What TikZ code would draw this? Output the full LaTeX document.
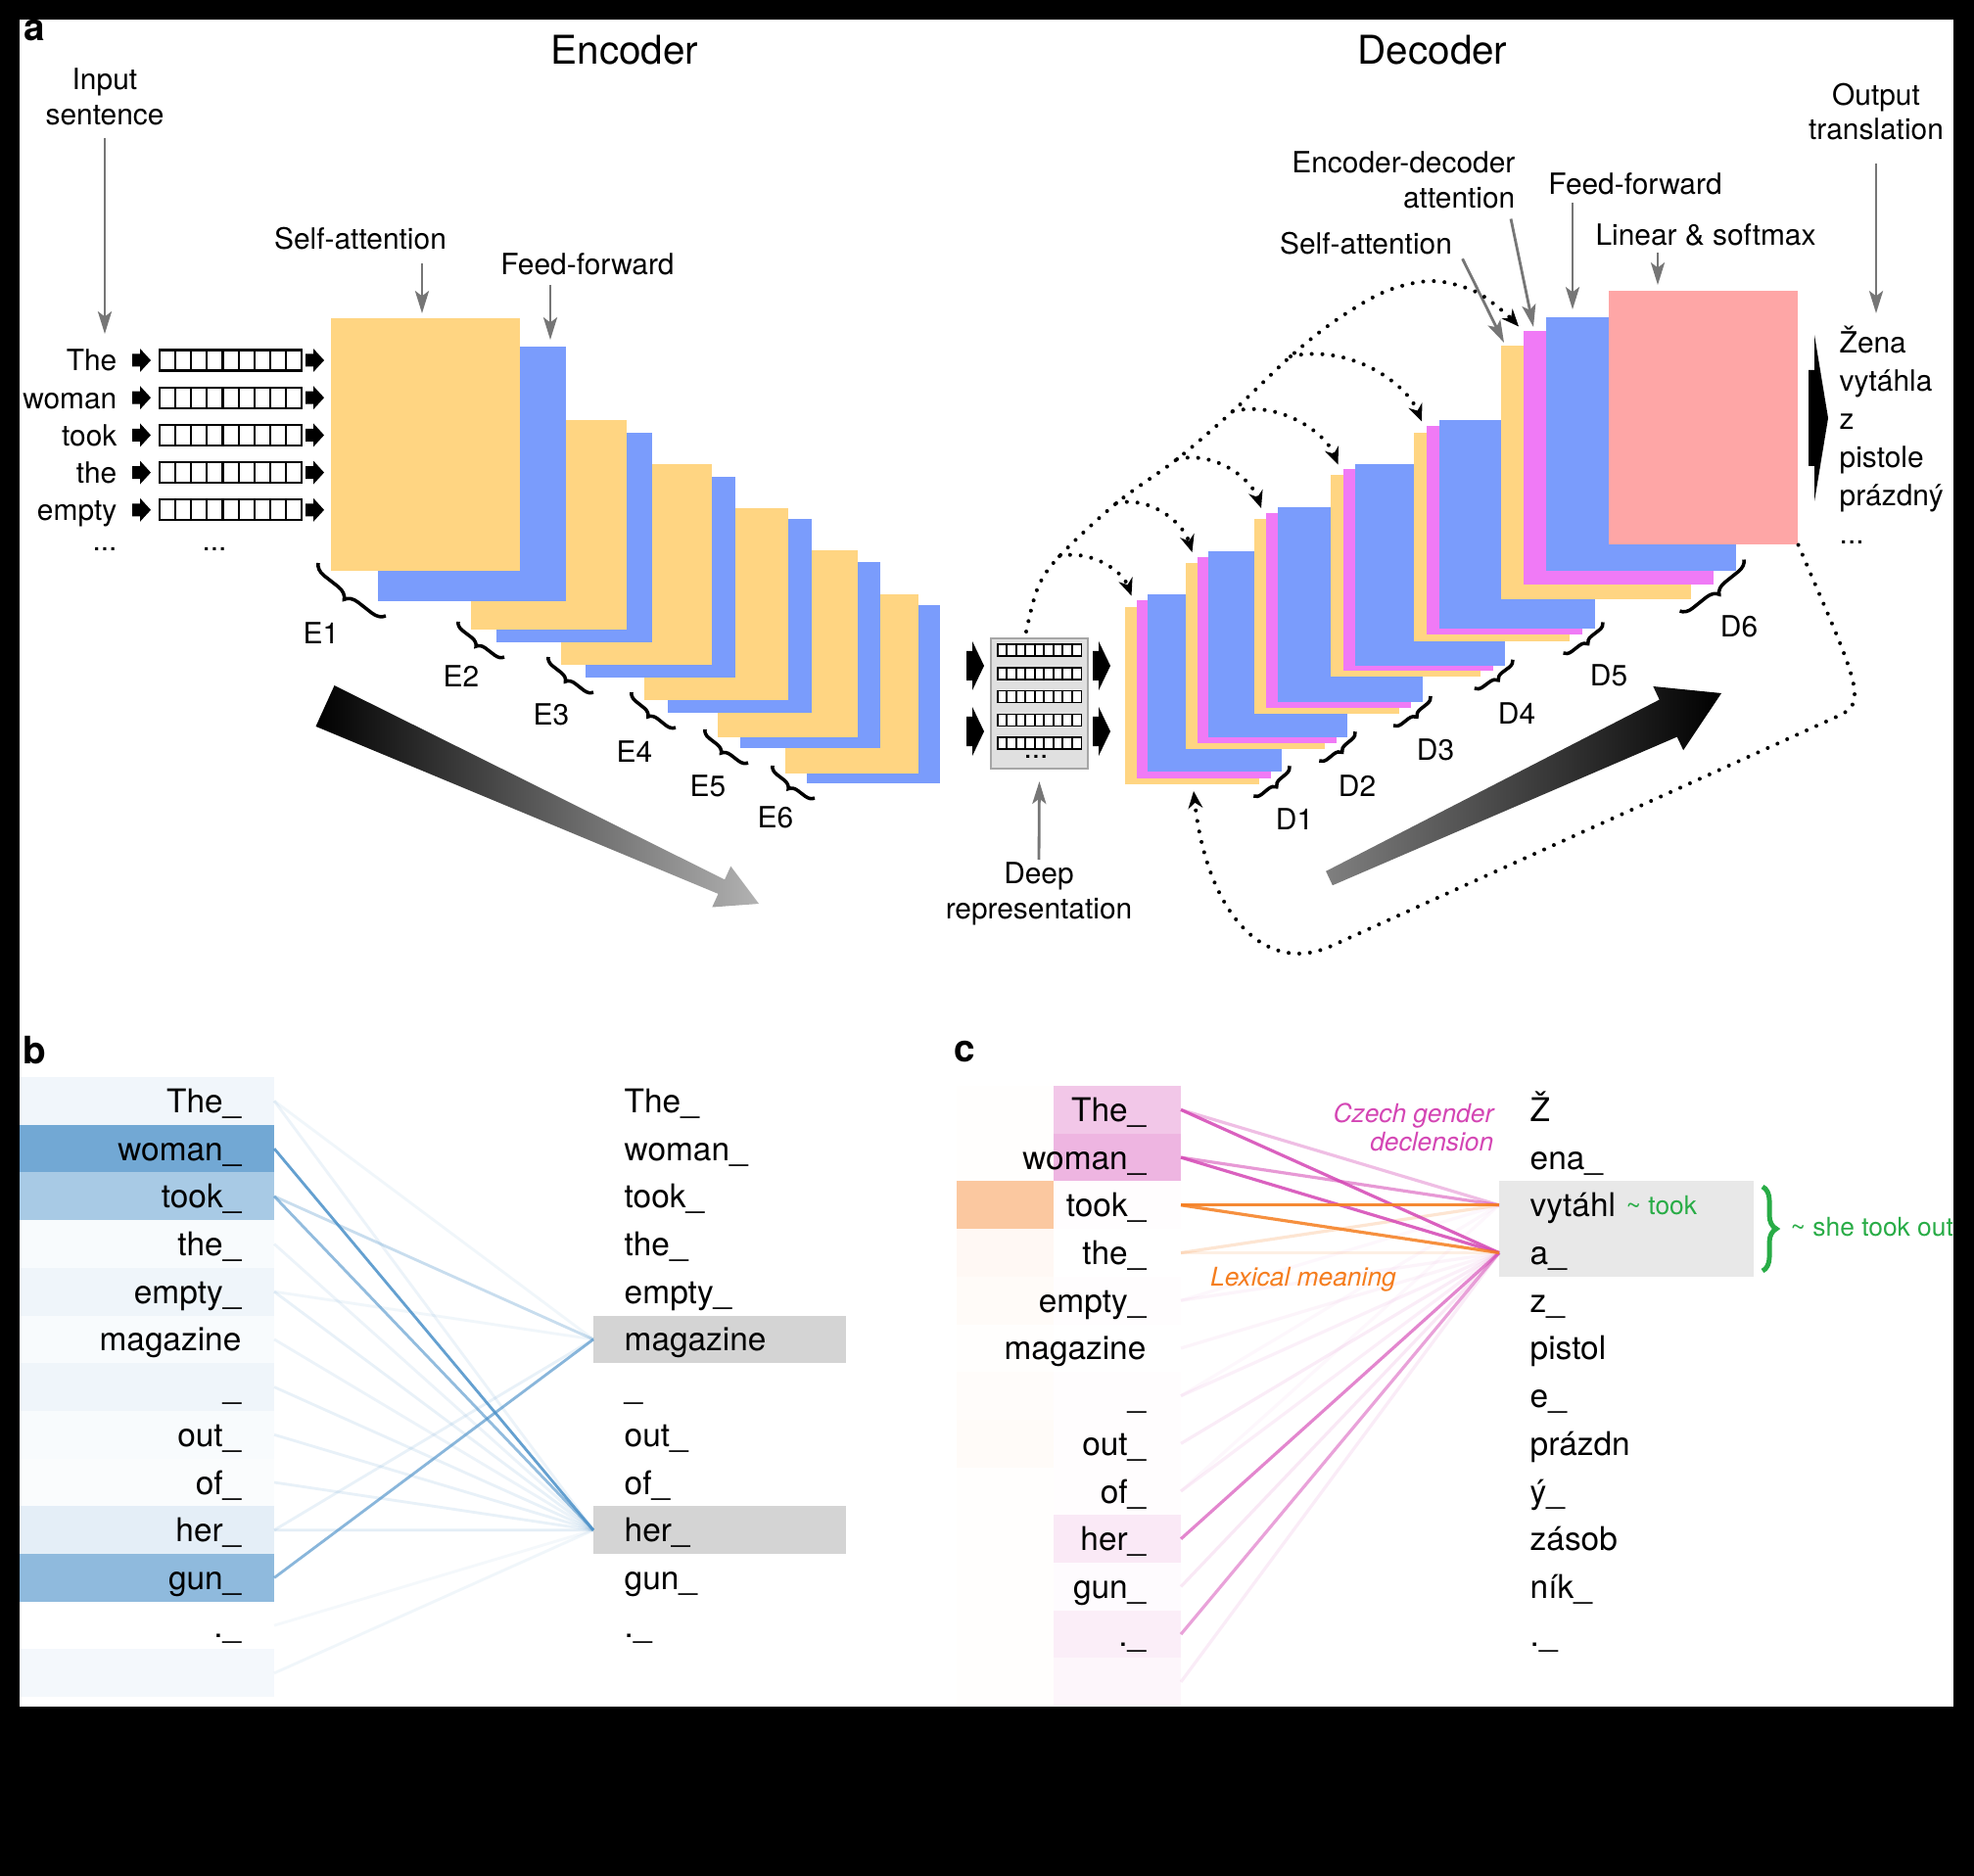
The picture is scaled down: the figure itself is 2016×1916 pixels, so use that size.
\documentclass[tikz,border=0pt]{standalone}
\usepackage{fontspec}
\setmainfont{TeX Gyre Heros}
\usetikzlibrary{matrix, arrows.meta, positioning, calc, decorations.pathreplacing}
\definecolor{EncYellow}{RGB}{255,213,130}
\definecolor{EncBlue}{RGB}{122,156,252}
\definecolor{DecPink}{RGB}{240,122,246}
\definecolor{SoftRed}{RGB}{254,166,166}
\definecolor{AttBlue}{RGB}{74,144,200}
\definecolor{AttPink}{RGB}{212,70,180}
\definecolor{AttOrange}{RGB}{245,125,30}
\definecolor{NoteGreen}{RGB}{40,172,70}
\definecolor{ArrowGray}{RGB}{118,118,118}

% filled block arrow: x, y, shaft length, shaft half height, head length, head half height
\newcommand{\blkarrow}[6]{%
  \fill (#1,#2) ++(0,-#4) -- ++(#3,0) -- ++(0,#4-#6) -- ++(#5,#6)
    -- ++(-#5,#6) -- ++(0,#4-#6) -- ++(-#3,0) -- cycle;}

\begin{document}
\begin{tikzpicture}[
    x=0.01cm, y=-0.01cm,
    % --- Styles ---
    % Style for the small labels of panel a
    lbl/.style={font=\fontsize{8.5}{10.2}\selectfont, inner sep=0pt},
    big-title/.style={font=\fontsize{11.5}{13}\selectfont, inner sep=0pt},
    panel/.style={font=\fontsize{11}{13}\selectfont\bfseries, inner sep=0pt},
    % Style for the token words of panels b and c
    word/.style={font=\fontsize{9.5}{11}\selectfont, inner sep=0pt},
    note/.style={font=\fontsize{7.5}{8.3}\selectfont\itshape, inner sep=0pt},
    green-note/.style={font=\fontsize{7.5}{9}\selectfont, text=NoteGreen, inner sep=0pt},
    row-cell/.style={minimum height=0.487cm, inner sep=0pt, outer sep=0pt},
    % Style for the gray pointer arrows
    lbl-arrow/.style={draw=ArrowGray, line width=0.8pt,
        -{Stealth[length=6.5pt, width=4pt, inset=1.5pt]}},
    % Style for the dotted attention arrows
    dot-arrow/.style={line width=1.15pt, dash pattern=on 0pt off 3.1pt,
        line cap=round, -{Stealth[length=5pt, width=4.2pt]}},
    layer-brace/.style={decorate, decoration={brace, mirror, amplitude=#1},
        line width=1pt},
    % Style for the word vectors
    in-vec/.style={matrix of nodes, ampersand replacement=\&,
        nodes={draw, line width=0.6pt, fill=white, minimum width=0.161cm,
            minimum height=0.21cm, inner sep=0pt},
        nodes in empty cells, column sep=-0.6pt, inner sep=0pt},
    deep-vec/.style={matrix of nodes, ampersand replacement=\&,
        nodes={draw, line width=0.45pt, fill=white, minimum width=0.095cm,
            minimum height=0.12cm, inner sep=0pt},
        nodes in empty cells, column sep=-0.45pt, inner sep=0pt}
]

\fill[black] (0,0) rectangle (2016,1916);
\fill[white] (20,20) rectangle (1995,1743);
\begin{scope}
\clip (20,20) rectangle (1995,1743);

% --- Panel a: titles ---
\node[panel, anchor=base west] (pa) at (24,42) {a};
\node[big-title, anchor=base] (enc-title) at (638,66) {Encoder};
\node[big-title, anchor=base] (dec-title) at (1463,66) {Decoder};

% --- Input sentence ---
\node[lbl, align=center, anchor=north] (in-lbl) at (107,69) {Input\\sentence};
\coordinate (in-tip) at (107,341);
\draw[lbl-arrow, shorten <=0.12cm] (in-lbl.south) -- (in-tip);

\foreach \k/\w in {0/The, 1/woman, 2/took, 3/the, 4/empty} {
    \node[lbl, anchor=base east] (w\k) at (120,379+38.2*\k) {\w};
    \blkarrow{135}{368+38.2*\k}{8}{6.5}{11}{12}
    \node[matrix, in-vec] (vin\k) at (235.5,368+38.2*\k) {\&\&\&\&\&\&\&\&\\};
    \blkarrow{312}{368+38.2*\k}{8}{6.5}{11}{12}
}
\node[lbl, anchor=base] (w-dots) at (107,563) {...};
\node[lbl, anchor=base] (vin-dots) at (219,563) {...};

% --- Encoder layers (back to front) ---
\foreach \k/\xa/\ya/\xb/\yb/\xc/\yc/\xd/\yd/\yl/\amp in {
    6/802/607/938/790/824/618/960/800/845/0.09cm,
    5/733/562/876/753/756/574/899/764/814/0.09cm,
    4/658/519/805/715/682/530/829/728/778/0.09cm,
    3/573/474/727/679/598/487/751/692/740/0.09cm,
    2/481/429/640/643/507/442/666/656/702/0.09cm,
    1/338/325/531/583/386/354/578/614/658/0.13cm} {
    \fill[EncBlue] (\xc,\yc) rectangle (\xd,\yd);
    \fill[EncYellow] (\xa,\ya) rectangle (\xb,\yb);
    \draw[layer-brace=\amp] (\xa-13,\yb-8) -- (\xc+8,\yd+15);
    \node[lbl, anchor=base] (E\k) at (\xa-10,\yl) {E\k};
}

\node[lbl, anchor=base] (esa-lbl) at (368,255) {Self-attention};
\node[lbl, anchor=base] (eff-lbl) at (600,281) {Feed-forward};
\coordinate (esa-tip) at (431,320);
\coordinate (eff-tip) at (562,347);
\draw[lbl-arrow, shorten <=0.13cm] (esa-lbl.south -| esa-tip) -- (esa-tip);
\draw[lbl-arrow, shorten <=0.09cm] (eff-lbl.south -| eff-tip) -- (eff-tip);

% --- Encoder flow arrow ---
\shade[left color=black, right color=black!30]
    (341.5,700.1) -- (740.1,898.3) -- (746.3,884.7) -- (775,923)
    -- (727.3,926.5) -- (733.5,912.9) -- (322.5,741.9) -- cycle;

% --- Deep representation ---
\node[fill=black!12, draw=black!35, line width=0.6pt, minimum width=0.99cm,
    minimum height=1.33cm, inner sep=0pt] (deep) at (1061.5,718.5) {};
\foreach \k in {0,...,4} {
    \node[matrix, deep-vec] (vdeep\k) at (1061.5,664+23.8*\k) {\&\&\&\&\&\&\&\&\\};
}
\node[lbl] (deep-dots) at (1058,773) {...};
\blkarrow{987}{680}{6}{15}{12}{25}
\blkarrow{987}{747}{6}{15}{12}{25}
\blkarrow{1116}{680}{6}{15}{12}{25}
\blkarrow{1116}{747}{6}{15}{12}{25}
\node[lbl, align=center, anchor=north] (deep-lbl) at (1061,880) {Deep\\representation};
\draw[lbl-arrow, shorten <=0.02cm, shorten >=0.12cm] (deep-lbl.north) -- (deep.south);

% --- Decoder layers ---
\foreach \k/\xb/\yb/\w/\h/\ox/\oy/\xl/\yl/\amp in {
    1/1172/607/137/181/11.5/6.5/1322/847/0.08cm,
    2/1234/563/142/190/11.5/6/1386/813/0.08cm,
    3/1305/518/148/199/12/6/1466/777/0.08cm,
    4/1384/474/153/206/12.5/5.5/1549/739/0.08cm,
    5/1470/429/159/213/13/6.5/1643/701/0.08cm,
    6/1579/324/194/259/23/14.5/1776/651/0.12cm} {
    \fill[EncYellow] (\xb-2*\ox,\yb+2*\oy) rectangle ++(\w,\h);
    \fill[DecPink] (\xb-\ox,\yb+\oy) rectangle ++(\w,\h);
    \fill[EncBlue] (\xb,\yb) rectangle ++(\w,\h);
    \coordinate (D\k-m) at (\xb-\ox-5,\yb+\oy-5);
    \draw[layer-brace=\amp] (\xb+\w-2.5*\ox,\yb+\h+2*\oy+12) -- (\xb+\w+8,\yb+\h-0.5*\ox);
    \node[lbl, anchor=base] (D\k) at (\xl,\yl) {D\k};
}
\node[fill=SoftRed, minimum width=1.93cm, minimum height=2.59cm, inner sep=0pt,
    anchor=north west] (softmax) at (1642,296) {};

% --- Decoder labels ---
\node[lbl, align=right, anchor=north east] (eda-lbl) at (1548,154) {Encoder-decoder\\attention};
\node[lbl, anchor=base] (dsa-lbl) at (1395,260) {Self-attention};
\node[lbl, anchor=base] (dff-lbl) at (1670,199) {Feed-forward};
\node[lbl, anchor=base] (ls-lbl) at (1742,251) {Linear \& softmax};
\node[lbl, align=center, anchor=north] (out-lbl) at (1916,84) {Output\\translation};
\coordinate (dsa-tip) at (1536,350);
\coordinate (eda-tip) at (1566,334);
\coordinate (dff-tip) at (1606,316);
\coordinate (ls-tip) at (1693,291);
\coordinate (out-tip) at (1916,320);
\draw[lbl-arrow] ($(dsa-lbl.south east)+(10,3)$) -- (dsa-tip);
\draw[lbl-arrow] ($(eda-lbl.south east)+(-5,10)$) -- (eda-tip);
\draw[lbl-arrow, shorten <=0.07cm] (dff-lbl.south -| dff-tip) -- (dff-tip);
\draw[lbl-arrow, shorten <=0.06cm] (ls-lbl.south -| ls-tip) -- (ls-tip);
\draw[lbl-arrow, shorten <=0.23cm] (out-lbl.south) -- (out-tip);

% --- Output translation ---
\foreach \k/\w in {0/Žena, 1/vytáhla, 2/z, 3/pistole, 4/prázdný} {
    \node[lbl, anchor=base west] (ow\k) at (1878,361+39*\k) {\w};
}
\node[lbl, anchor=base west] (ow-dots) at (1878,556) {...};
\blkarrow{1847}{427}{6}{49}{14}{85}

% --- Decoder flow arrow ---
\shade[left color=black!50, right color=black]
    (1354.1,889.8) -- (1694.7,714.6) -- (1688.3,701.0) -- (1758,708)
    -- (1719.1,766.2) -- (1712.7,752.6) -- (1360.9,904.2) -- cycle;

% --- Dotted attention arrows ---
\coordinate (deep-out) at (1048,645);
\draw[dot-arrow] plot[smooth, tension=0.55] coordinates {(deep-out) (1060,600)
    (1082,568) (1140,514) (1202,469) (1259,420) (1318,364) (1363,328) (1414,298)
    (1462,287) (1505,297) (1535,318) (D6-m)};
\foreach \k/\sx/\sy/\ax/\ay/\bx/\by in {1/1082/568/33/-7/-9/-25,
    2/1140/514/35/-8/-9/-30, 3/1202/469/39/-9/-10/-30,
    4/1259/420/48/-11/-13/-33, 5/1318/364/60/-13/-16/-40} {
    \draw[dot-arrow] (\sx,\sy) .. controls +(\ax,\ay) and +(\bx,\by) .. (D\k-m);
}
\coordinate (D1-bot) at (1219,808);
\draw[dot-arrow] (softmax.south east) .. controls (1872,640) and (1896,690) .. (1894,712)
    .. controls (1893,722) and (1888,726) .. (1878,731) -- (1360,966)
    .. controls (1290,998) and (1232,930) .. (D1-bot);

% --- Panel b ---
\node[panel, anchor=base west] (pb) at (23,1086) {b};
\foreach \i/\w/\p in {0/The\_/8, 1/woman\_/78, 2/took\_/48, 3/the\_/4,
    4/empty\_/9, 5/magazine/4, 6/\_/9, 7/out\_/4, 8/of\_/3, 9/her\_/15,
    10/gun\_/62, 11/.\_/0, 12//6} {
    \node[row-cell, fill=AttBlue!\p, minimum width=2.6cm] (bl\i) at (150,1124.4+48.7*\i) {};
    \node[word, anchor=base east] (blw\i) at (247,1136.4+48.7*\i) {\w};
}
\node[row-cell, fill=black!17, minimum width=2.58cm, anchor=west] (b-mag) at (606,1367.9) {};
\node[row-cell, fill=black!17, minimum width=2.58cm, anchor=west] (b-her) at (606,1562.7) {};
\foreach \i/\w in {0/The\_, 1/woman\_, 2/took\_, 3/the\_, 4/empty\_, 5/magazine,
    6/\_, 7/out\_, 8/of\_, 9/her\_, 10/gun\_, 11/.\_} {
    \node[word, anchor=base west] (brw\i) at (637,1136.4+48.7*\i) {\w};
}
\foreach \i/\tg/\op in {0/b-her/.1, 0/b-mag/.08, 3/b-her/.1, 4/b-her/.12,
    4/b-mag/.08, 5/b-her/.1, 6/b-her/.12, 7/b-her/.12, 8/b-her/.12, 9/b-her/.15,
    9/b-mag/.12, 11/b-her/.06, 12/b-her/.08, 2/b-mag/.3, 2/b-her/.6,
    10/b-mag/.65, 1/b-her/.85} {
    \draw[draw=AttBlue, line width=0.8pt, opacity=\op] (bl\i.east) -- (\tg.west);
}

% --- Panel c ---
\node[panel, anchor=base west] (pc) at (974,1084) {c};
\foreach \i/\w/\po/\pp in {0/The\_/1/30, 1/woman\_/1/40, 2/took\_/42/1, 3/the\_/5/0,
    4/empty\_/3/1, 5/magazine/1/0, 6/\_/2/1, 7/out\_/3/1, 8/of\_/1/1, 9/her\_/1/12,
    10/gun\_/1/2, 11/.\_/1/9, 12//1/5} {
    \node[row-cell, fill=AttOrange!\po, minimum width=0.99cm] (co\i) at (1026.5,1133.4+48.7*\i) {};
    \node[row-cell, fill=AttPink!\pp, minimum width=1.30cm] (cp\i) at (1141,1133.4+48.7*\i) {};
    \node[word, anchor=base east] (clw\i) at (1171,1145.4+48.7*\i) {\w};
}
\node[row-cell, fill=black!9, minimum width=2.6cm, minimum height=0.98cm,
    anchor=north west] (c-hl) at (1531,1206) {};
\foreach \i/\w in {0/Ž, 1/ena\_, 2/vytáhl, 3/a\_, 4/z\_, 5/pistol, 6/e\_,
    7/prázdn, 8/ý\_, 9/zásob, 10/ník\_, 11/.\_} {
    \node[word, anchor=base west] (crw\i) at (1562,1145.4+48.7*\i) {\w};
}
\foreach \i/\tg/\col/\op in {4/3/AttPink/.06, 5/3/AttPink/.06, 6/3/AttPink/.08,
    7/3/AttPink/.1, 8/3/AttPink/.09, 10/3/AttPink/.12, 12/3/AttPink/.1,
    4/2/AttPink/.04, 6/2/AttPink/.04, 8/2/AttPink/.04,
    3/2/AttOrange/.2, 3/3/AttOrange/.12,
    0/2/AttPink/.35, 1/2/AttPink/.55, 11/3/AttPink/.5, 9/3/AttPink/.65,
    0/3/AttPink/.85, 1/3/AttPink/.85, 2/2/AttOrange/.9, 2/3/AttOrange/.85} {
    \draw[draw=\col, line width=0.9pt, opacity=\op] (cp\i.east) -- (c-hl.west |- cp\tg);
}
\node[note, text=AttPink, align=right, anchor=north east] (czech-note) at (1526,1126) {Czech gender\\declension};
\node[note, text=AttOrange, anchor=base] (lex-note) at (1331,1313) {Lexical meaning};
\node[green-note, anchor=base west] (took-note) at (1660,1240) {\textasciitilde{} took};
\draw[NoteGreen, line width=1.4pt, decorate, decoration={brace, amplitude=0.14cm}]
    (1800,1212) -- (1800,1298);
\node[green-note, anchor=base west] (out-note) at (1828,1262) {\textasciitilde{} she took out};

\end{scope}
\end{tikzpicture}
\end{document}
